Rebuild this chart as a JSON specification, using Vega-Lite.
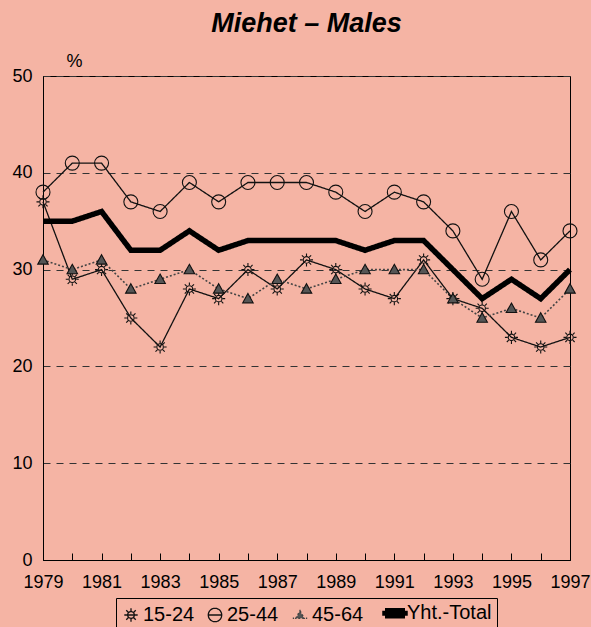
{
  "$schema": "https://vega.github.io/schema/vega-lite/v6.json",
  "autosize": "none",
  "width": 527,
  "height": 484,
  "padding": {"left": 43, "top": 76, "right": 21, "bottom": 67},
  "background": "#f5b4a4",
  "config": {
    "view": {"stroke": "#000", "strokeWidth": 1},
    "font": "Liberation Sans"
  },
  "title": {
    "text": "Miehet – Males",
    "font": "Liberation Sans",
    "fontSize": 27,
    "fontWeight": "bold",
    "fontStyle": "italic",
    "color": "#000",
    "anchor": "middle",
    "offset": 14
  },
  "data": {
    "values": [
      {"year": 1979, "series": "15-24", "value": 37},
      {"year": 1980, "series": "15-24", "value": 29},
      {"year": 1981, "series": "15-24", "value": 30},
      {"year": 1982, "series": "15-24", "value": 25},
      {"year": 1983, "series": "15-24", "value": 22},
      {"year": 1984, "series": "15-24", "value": 28},
      {"year": 1985, "series": "15-24", "value": 27},
      {"year": 1986, "series": "15-24", "value": 30},
      {"year": 1987, "series": "15-24", "value": 28},
      {"year": 1988, "series": "15-24", "value": 31},
      {"year": 1989, "series": "15-24", "value": 30},
      {"year": 1990, "series": "15-24", "value": 28},
      {"year": 1991, "series": "15-24", "value": 27},
      {"year": 1992, "series": "15-24", "value": 31},
      {"year": 1993, "series": "15-24", "value": 27},
      {"year": 1994, "series": "15-24", "value": 26},
      {"year": 1995, "series": "15-24", "value": 23},
      {"year": 1996, "series": "15-24", "value": 22},
      {"year": 1997, "series": "15-24", "value": 23},
      {"year": 1979, "series": "25-44", "value": 38},
      {"year": 1980, "series": "25-44", "value": 41},
      {"year": 1981, "series": "25-44", "value": 41},
      {"year": 1982, "series": "25-44", "value": 37},
      {"year": 1983, "series": "25-44", "value": 36},
      {"year": 1984, "series": "25-44", "value": 39},
      {"year": 1985, "series": "25-44", "value": 37},
      {"year": 1986, "series": "25-44", "value": 39},
      {"year": 1987, "series": "25-44", "value": 39},
      {"year": 1988, "series": "25-44", "value": 39},
      {"year": 1989, "series": "25-44", "value": 38},
      {"year": 1990, "series": "25-44", "value": 36},
      {"year": 1991, "series": "25-44", "value": 38},
      {"year": 1992, "series": "25-44", "value": 37},
      {"year": 1993, "series": "25-44", "value": 34},
      {"year": 1994, "series": "25-44", "value": 29},
      {"year": 1995, "series": "25-44", "value": 36},
      {"year": 1996, "series": "25-44", "value": 31},
      {"year": 1997, "series": "25-44", "value": 34},
      {"year": 1979, "series": "45-64", "value": 31},
      {"year": 1980, "series": "45-64", "value": 30},
      {"year": 1981, "series": "45-64", "value": 31},
      {"year": 1982, "series": "45-64", "value": 28},
      {"year": 1983, "series": "45-64", "value": 29},
      {"year": 1984, "series": "45-64", "value": 30},
      {"year": 1985, "series": "45-64", "value": 28},
      {"year": 1986, "series": "45-64", "value": 27},
      {"year": 1987, "series": "45-64", "value": 29},
      {"year": 1988, "series": "45-64", "value": 28},
      {"year": 1989, "series": "45-64", "value": 29},
      {"year": 1990, "series": "45-64", "value": 30},
      {"year": 1991, "series": "45-64", "value": 30},
      {"year": 1992, "series": "45-64", "value": 30},
      {"year": 1993, "series": "45-64", "value": 27},
      {"year": 1994, "series": "45-64", "value": 25},
      {"year": 1995, "series": "45-64", "value": 26},
      {"year": 1996, "series": "45-64", "value": 25},
      {"year": 1997, "series": "45-64", "value": 28},
      {"year": 1979, "series": "Yht.-Total", "value": 35},
      {"year": 1980, "series": "Yht.-Total", "value": 35},
      {"year": 1981, "series": "Yht.-Total", "value": 36},
      {"year": 1982, "series": "Yht.-Total", "value": 32},
      {"year": 1983, "series": "Yht.-Total", "value": 32},
      {"year": 1984, "series": "Yht.-Total", "value": 34},
      {"year": 1985, "series": "Yht.-Total", "value": 32},
      {"year": 1986, "series": "Yht.-Total", "value": 33},
      {"year": 1987, "series": "Yht.-Total", "value": 33},
      {"year": 1988, "series": "Yht.-Total", "value": 33},
      {"year": 1989, "series": "Yht.-Total", "value": 33},
      {"year": 1990, "series": "Yht.-Total", "value": 32},
      {"year": 1991, "series": "Yht.-Total", "value": 33},
      {"year": 1992, "series": "Yht.-Total", "value": 33},
      {"year": 1993, "series": "Yht.-Total", "value": 30},
      {"year": 1994, "series": "Yht.-Total", "value": 27},
      {"year": 1995, "series": "Yht.-Total", "value": 29},
      {"year": 1996, "series": "Yht.-Total", "value": 27},
      {"year": 1997, "series": "Yht.-Total", "value": 30}
    ]
  },
  "encoding": {
    "x": {
      "field": "year",
      "type": "quantitative",
      "scale": {"domain": [1979, 1997], "nice": false, "zero": false},
      "axis": {
        "title": null,
        "values": [1979,1980,1981,1982,1983,1984,1985,1986,1987,1988,1989,1990,1991,1992,1993,1994,1995,1996,1997],
        "format": "d",
        "labelExpr": "datum.value % 2 == 1 ? datum.label : ''",
        "labelFontSize": 18,
        "labelColor": "#000",
        "labelFont": "Liberation Sans",
        "labelOverlap": false,
        "labelFlush": false,
        "tickSize": -7,
        "tickColor": "#000",
        "labelPadding": 20,
        "domainColor": "#000",
        "grid": false
      }
    },
    "y": {
      "field": "value",
      "type": "quantitative",
      "scale": {"domain": [0, 50], "nice": false},
      "axis": {
        "title": "%",
        "titleAngle": 0,
        "titleX": 31,
        "titleY": -10,
        "titleAlign": "center",
        "titleBaseline": "alphabetic",
        "titleFontSize": 18,
        "titleFontWeight": "normal",
        "titleColor": "#000",
        "values": [0, 10, 20, 30, 40, 50],
        "labelFontSize": 18,
        "labelColor": "#000",
        "labelPadding": 11,
        "ticks": false,
        "domainColor": "#000",
        "grid": true,
        "gridColor": "#333",
        "gridDash": [7, 6],
        "gridWidth": 1
      }
    }
  },
  "layer": [
    {
      "mark": {"type": "line", "strokeJoin": "miter"},
      "encoding": {
        "detail": {"field": "series", "type": "nominal"},
        "color": {
          "field": "series",
          "type": "nominal",
          "scale": {"domain": ["15-24", "25-44", "45-64", "Yht.-Total"], "range": ["#111", "#111", "#444", "#000"]},
          "legend": {
            "title": null,
            "orient": "none",
            "legendX": 73,
            "legendY": 522,
            "direction": "horizontal",
            "padding": 5,
            "strokeColor": "#000",
            "labelFontSize": 20,
            "labelColor": "#000",
            "labelFont": "Liberation Sans",
            "labelOffset": 2,
            "columnPadding": 10,
            "symbolSize": 400,
            "encode": {
              "symbols": {
                "update": {
                  "shape": {"signal": "datum.value === '15-24' ? 'M0.5,0A0.5,0.5,0,1,1,-0.5,0A0.5,0.5,0,1,1,0.5,0ZM-1,0L1,0M0,0.6L0,1M0,-0.6L0,-1M0.42,0.42L0.71,0.71M-0.42,-0.42L-0.71,-0.71M0.42,-0.42L0.71,-0.71M-0.42,0.42L-0.71,0.71' : datum.value === '25-44' ? 'M1,0A1,1,0,1,1,-1,0A1,1,0,1,1,1,0ZM-1,0L1,0' : datum.value === '45-64' ? 'M0,-1L1,0.8L-1,0.8ZM-1.8,0.8L-1.5,0.8M1.5,0.8L1.8,0.8' : 'M-1,-0.25L1,-0.25L1,0.25L-1,0.25Z'"},
                  "size": {"signal": "datum.value === 'Yht.-Total' ? 400 : datum.value === '45-64' ? 64 : 180"},
                  "fill": {"signal": "datum.value === '45-64' ? '#555' : datum.value === 'Yht.-Total' ? '#000' : 'transparent'"},
                  "stroke": {"signal": "datum.value === 'Yht.-Total' ? 'transparent' : '#111'"},
                  "strokeWidth": {"value": 1.1},
                  "strokeDash": {"value": [1, 0]},
                  "opacity": {"value": 1}
                }
              }
            }
          }
        },
        "strokeWidth": {
          "field": "series",
          "type": "nominal",
          "scale": {"type": "ordinal", "domain": ["15-24", "25-44", "45-64", "Yht.-Total"], "range": [1.3, 1.3, 1.6, 5.5]},
          "legend": null
        },
        "strokeDash": {
          "field": "series",
          "type": "nominal",
          "scale": {"domain": ["15-24", "25-44", "45-64", "Yht.-Total"], "range": [[1, 0], [1, 0], [2, 2], [1, 0]]},
          "legend": null
        }
      }
    },
    {
      "transform": [{"filter": "datum.series != 'Yht.-Total'"}],
      "mark": {"type": "point", "filled": true, "stroke": "#111", "strokeWidth": 1.1, "opacity": 1},
      "encoding": {
        "shape": {
          "field": "series",
          "type": "nominal",
          "scale": {
            "domain": ["15-24", "25-44", "45-64"],
            "range": [
              "M0.5,0A0.5,0.5,0,1,1,-0.5,0A0.5,0.5,0,1,1,0.5,0ZM0.6,0L1,0M-0.6,0L-1,0M0,0.6L0,1M0,-0.6L0,-1M0.42,0.42L0.71,0.71M-0.42,-0.42L-0.71,-0.71M0.42,-0.42L0.71,-0.71M-0.42,0.42L-0.71,0.71",
              "circle",
              "M0,-1L1,0.8L-1,0.8Z"
            ]
          },
          "legend": null
        },
        "fill": {
          "field": "series",
          "type": "nominal",
          "scale": {"domain": ["15-24", "25-44", "45-64"], "range": ["transparent", "transparent", "#555"]},
          "legend": null
        },
        "size": {
          "field": "series",
          "type": "nominal",
          "scale": {"type": "ordinal", "domain": ["15-24", "25-44", "45-64"], "range": [170, 196, 110]},
          "legend": null
        }
      }
    }
  ]
}
